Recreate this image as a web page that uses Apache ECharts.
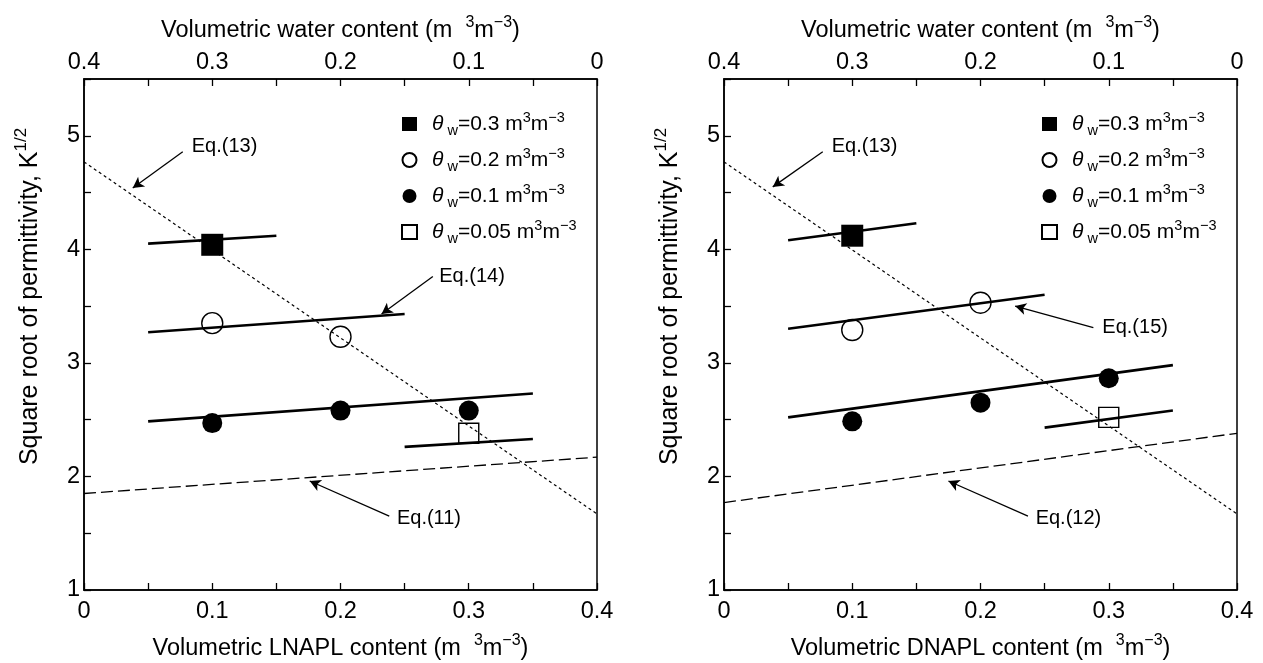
<!DOCTYPE html>
<html>
<head>
<meta charset="utf-8">
<script src="https://cdn.jsdelivr.net/npm/echarts@6/dist/echarts.min.js"></script>
<style>
html,body{margin:0;padding:0;background:#fff;}
#chart{width:1263px;height:663px;}
</style>
</head>
<body>
<div id="chart"></div>
<script>
// ---------- data ----------
const waterLevels = ['0.3', '0.2', '0.1', '0.05'];
const bottomTitles = ['LNAPL', 'DNAPL'];

// Left panel (LNAPL)
const L_w03 = [[0.1, 4.04]];
const L_w02 = [[0.1, 3.35], [0.2, 3.23]];
const L_w01 = [[0.1, 2.47], [0.2, 2.58], [0.3, 2.58]];
const L_w005 = [[0.3, 2.38]];
const L_fit03 = [[0.05, 4.05], [0.15, 4.12]];
const L_fit02 = [[0.05, 3.27], [0.25, 3.43]];
const L_fit01 = [[0.05, 2.485], [0.35, 2.73]];
const L_fit005 = [[0.25, 2.26], [0.35, 2.33]];
const L_eqLow = [[0, 1.85], [0.4, 2.17]];      // Eq.(11)
const L_eq13 = [[0, 4.77], [0.4, 1.67]];
const L_notes = [
  {text: 'Eq.(13)', at: [0.084, 4.91], from: [0.077, 4.86], to: [0.038, 4.54]},
  {text: 'Eq.(14)', at: [0.277, 3.76], from: [0.272, 3.76], to: [0.232, 3.43]},
  {text: 'Eq.(11)', at: [0.244, 1.63], from: [0.238, 1.65], to: [0.176, 1.96]}
];

// Right panel (DNAPL)
const R_w03 = [[0.1, 4.12]];
const R_w02 = [[0.1, 3.29], [0.2, 3.53]];
const R_w01 = [[0.1, 2.485], [0.2, 2.65], [0.3, 2.865]];
const R_w005 = [[0.3, 2.52]];
const R_fit03 = [[0.05, 4.08], [0.15, 4.23]];
const R_fit02 = [[0.05, 3.30], [0.25, 3.60]];
const R_fit01 = [[0.05, 2.52], [0.35, 2.98]];
const R_fit005 = [[0.25, 2.43], [0.35, 2.58]];
const R_eqLow = [[0, 1.77], [0.4, 2.38]];      // Eq.(12)
const R_eq13 = [[0, 4.77], [0.4, 1.67]];
const R_notes = [
  {text: 'Eq.(13)', at: [0.084, 4.91], from: [0.077, 4.86], to: [0.038, 4.55]},
  {text: 'Eq.(15)', at: [0.295, 3.31], from: [0.288, 3.31], to: [0.227, 3.50]},
  {text: 'Eq.(12)', at: [0.243, 1.63], from: [0.237, 1.65], to: [0.175, 1.96]}
];

// ---------- styling ----------
const FONT = '"Liberation Sans", Arial, Helvetica, sans-serif';
const richTitle = {
  n: {fontSize: 23.5, fontFamily: FONT, color: '#000', lineHeight: 32},
  sup: {fontSize: 16, fontFamily: FONT, color: '#000', verticalAlign: 'top', lineHeight: 16}
};
const richYTitle = {
  n: {fontSize: 25, fontFamily: FONT, color: '#000', lineHeight: 34},
  sup: {fontSize: 17, fontFamily: FONT, color: '#000', verticalAlign: 'top', lineHeight: 17}
};
const richLegend = {
  n: {fontSize: 21, fontFamily: FONT, color: '#000', lineHeight: 28},
  sup: {fontSize: 14.5, fontFamily: FONT, color: '#000', verticalAlign: 'top', lineHeight: 14},
  sub: {fontSize: 14.5, fontFamily: FONT, color: '#000', verticalAlign: 'bottom', lineHeight: 14},
  th: {fontSize: 21, fontFamily: FONT, fontStyle: 'italic', color: '#000', lineHeight: 28, padding: [0, 0, 0, 10]}
};

function fmtX(v) {
  const r = Math.round(v * 10);
  return Math.abs(v * 10 - r) < 1e-6 ? String(r / 10) : '';
}
function fmtY(v) {
  return Math.abs(v - Math.round(v)) < 1e-6 && v <= 5 ? String(Math.round(v)) : '';
}

function xAxisDef(gi, top, name) {
  return {
    type: 'value', gridIndex: gi, position: top ? 'top' : 'bottom', inverse: !!top,
    min: 0, max: 0.4, interval: 0.05,
    name: name, nameLocation: 'middle', nameGap: top ? 32 : 43,
    nameTextStyle: {rich: richTitle},
    axisLine: {show: true, onZero: false, lineStyle: {color: '#000', width: 1.5}},
    axisTick: {show: true, inside: true, length: 7, lineStyle: {color: '#000', width: 1.3}},
    axisLabel: {show: true, interval: 0, formatter: fmtX, color: '#000', fontSize: 23.5, fontFamily: FONT, margin: top ? 4 : 10},
    splitLine: {show: false}
  };
}
function yAxisDef(gi) {
  return {
    type: 'value', gridIndex: gi, min: 1, max: 5.5, interval: 0.5,
    name: '{n|Square root of permittivity, K}{sup|1/2}', nameLocation: 'middle', nameGap: 37,
    nameTextStyle: {rich: richYTitle, padding: [0, 0, 0, 76]},
    axisLine: {show: true, onZero: false, lineStyle: {color: '#000', width: 1.5}},
    axisTick: {show: true, inside: true, length: 7, lineStyle: {color: '#000', width: 1.3}},
    axisLabel: {show: true, interval: 0, formatter: fmtY, color: '#000', fontSize: 23.5, fontFamily: FONT, margin: 4},
    splitLine: {show: false}
  };
}

const markerStyles = [
  {symbol: 'rect', size: 22, itemStyle: {color: '#000', opacity: 1}},
  {symbol: 'circle', size: 21, itemStyle: {color: 'rgba(0,0,0,0)', borderColor: '#000', borderWidth: 1.4, opacity: 1}},
  {symbol: 'circle', size: 20, itemStyle: {color: '#000', opacity: 1}},
  {symbol: 'rect', size: 20, itemStyle: {color: 'rgba(0,0,0,0)', borderColor: '#000', borderWidth: 1.4, opacity: 1}}
];

function panelSeries(xi, yi, pts, fits, eqLow, eq13, notes) {
  const s = [];
  s.push({type: 'line', xAxisIndex: xi, yAxisIndex: yi, data: eq13, symbol: 'none', silent: true,
    lineStyle: {color: '#000', width: 1.2, type: [3, 3]}, z: 2});
  s.push({type: 'line', xAxisIndex: xi, yAxisIndex: yi, data: eqLow, symbol: 'none', silent: true,
    lineStyle: {color: '#000', width: 1.3, type: [12, 5]}, z: 2});
  fits.forEach(f => s.push({type: 'line', xAxisIndex: xi, yAxisIndex: yi, data: f, symbol: 'none', silent: true,
    lineStyle: {color: '#000', width: 2.6}, z: 3}));
  s.push({type: 'line', xAxisIndex: xi, yAxisIndex: yi, data: [], symbol: 'none', silent: true,
    markLine: {silent: true, symbol: ['none', 'arrow'], symbolSize: [9, 11], label: {show: false},
      lineStyle: {color: '#000', width: 1.3, type: 'solid'}, animation: false,
      data: notes.map(n => [{coord: n.from}, {coord: n.to}])}});
  s.push({type: 'scatter', xAxisIndex: xi, yAxisIndex: yi, symbolSize: 0, silent: true,
    itemStyle: {color: '#000', opacity: 1},
    data: notes.map(n => ({value: n.at, name: n.text})),
    label: {show: true, position: 'right', distance: 0, formatter: p => p.name,
      color: '#000', fontSize: 20, fontFamily: FONT}, z: 5});
  pts.forEach((p, i) => s.push({
    type: 'scatter', name: 'w' + waterLevels[i], xAxisIndex: xi, yAxisIndex: yi, data: p,
    symbol: markerStyles[i].symbol, symbolSize: markerStyles[i].size,
    itemStyle: markerStyles[i].itemStyle, z: 6
  }));
  return s;
}

function legendDef(left) {
  return {
    orient: 'vertical', left: left, top: 105, itemWidth: 15, itemHeight: 14, itemGap: 8,
    selectedMode: false,
    data: waterLevels.map(w => 'w' + w),
    formatter: name => '{th|θ}{sub| w}{n|=' + name.slice(1) + ' m}{sup|3}{n|m}{sup|−3}',
    textStyle: {rich: richLegend, lineHeight: 28}
  };
}

const xName = t => '{n|Volumetric ' + t + ' content (m  }{sup|3}{n|m}{sup|−3}{n|)}';

const option = {
  animation: false,
  backgroundColor: '#fff',
  textStyle: {fontFamily: FONT},
  grid: [
    {left: 84, right: 666, top: 79, bottom: 73, show: true, borderColor: '#000', borderWidth: 1.5, containLabel: false, outerBoundsMode: 'none'},
    {left: 724, right: 26, top: 79, bottom: 73, show: true, borderColor: '#000', borderWidth: 1.5, containLabel: false, outerBoundsMode: 'none'}
  ],
  legend: [legendDef(396), legendDef(1036)],
  xAxis: [
    xAxisDef(0, false, xName(bottomTitles[0])),
    xAxisDef(0, true, xName('water')),
    xAxisDef(1, false, xName(bottomTitles[1])),
    xAxisDef(1, true, xName('water'))
  ],
  yAxis: [yAxisDef(0), yAxisDef(1)],
  series: [].concat(
    panelSeries(0, 0, [L_w03, L_w02, L_w01, L_w005], [L_fit03, L_fit02, L_fit01, L_fit005], L_eqLow, L_eq13, L_notes),
    panelSeries(2, 1, [R_w03, R_w02, R_w01, R_w005], [R_fit03, R_fit02, R_fit01, R_fit005], R_eqLow, R_eq13, R_notes)
  )
};

const chart = echarts.init(document.getElementById('chart'), null, {renderer: 'canvas'});
chart.setOption(option);
</script>
</body>
</html>
